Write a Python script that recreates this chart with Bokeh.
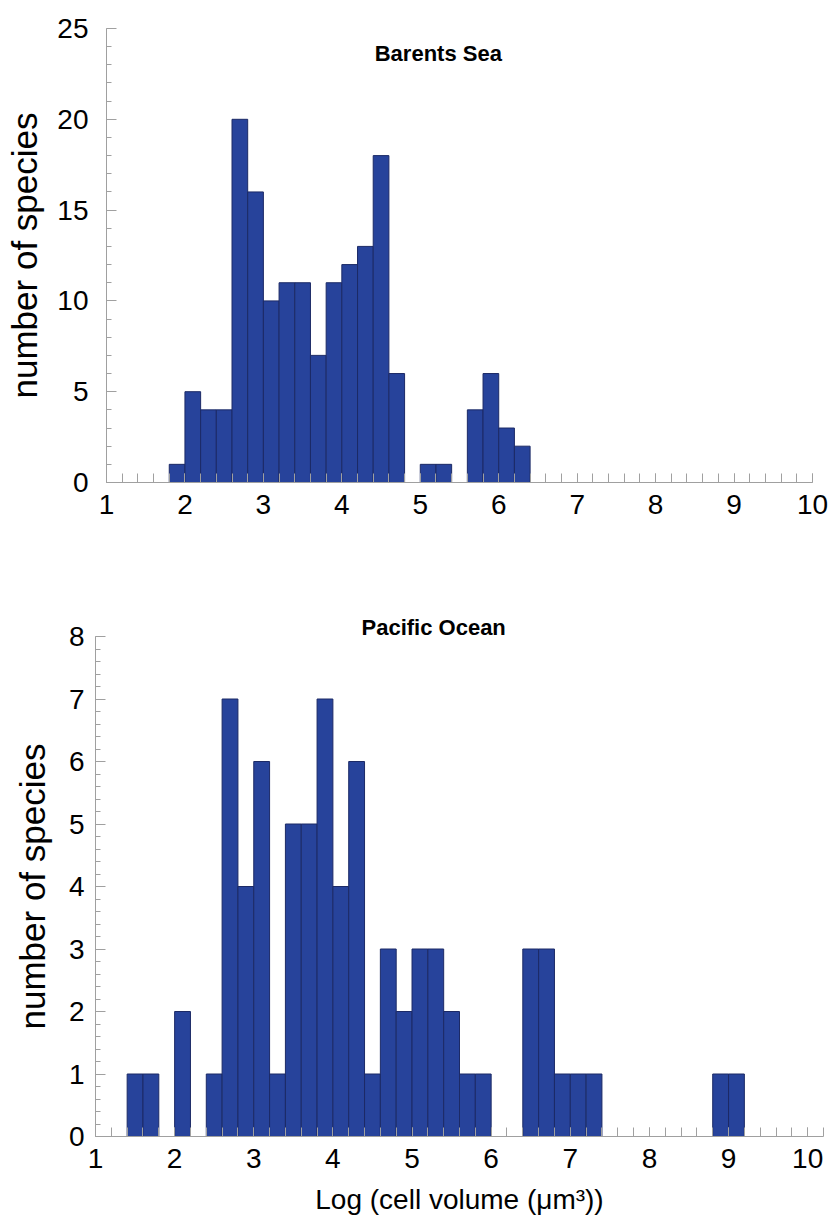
from bokeh.plotting import figure
from bokeh.models import SingleIntervalTicker, Label, Range1d
from bokeh.embed import file_html
from bokeh.resources import INLINE

# ---- data ----
bin_width = 0.2
barents_left = [1.8, 2.0, 2.2, 2.4, 2.6, 2.8, 3.0, 3.2, 3.4, 3.6, 3.8, 4.0, 4.2, 4.4, 4.6,
                5.0, 5.2, 5.6, 5.8, 6.0, 6.2]
barents_count = [1, 5, 4, 4, 20, 16, 10, 11, 11, 7, 11, 12, 13, 18, 6,
                 1, 1, 4, 6, 3, 2]

pacific_left = [1.4, 1.6, 2.0, 2.4, 2.6, 2.8, 3.0, 3.2, 3.4, 3.6, 3.8, 4.0, 4.2, 4.4, 4.6,
                4.8, 5.0, 5.2, 5.4, 5.6, 5.8, 6.4, 6.6, 6.8, 7.0, 7.2, 8.8, 9.0]
pacific_count = [1, 1, 2, 1, 7, 4, 6, 1, 5, 5, 7, 4, 6, 1, 3,
                 2, 3, 3, 2, 1, 1, 3, 3, 1, 1, 1, 1, 1]

x_tick_labels = ["1", "2", "3", "4", "5", "6", "7", "8", "9", "10"]

FONT = "Liberation Sans"
BAR = "#27439B"
BAR_LINE = "#1c2a66"
AXIS = "#a0a0a0"


def style(p, y_interval, label_standoff_y, ylab_standoff, xlab=None):
    p.xgrid.visible = False
    p.ygrid.visible = False
    p.outline_line_color = None
    p.background_fill_color = "white"
    p.border_fill_color = "white"
    p.xaxis.ticker = SingleIntervalTicker(interval=1, num_minor_ticks=5)
    p.yaxis.ticker = SingleIntervalTicker(interval=y_interval, num_minor_ticks=5)
    for ax in (p.xaxis[0], p.yaxis[0]):
        ax.axis_line_color = AXIS
        ax.major_tick_line_color = AXIS
        ax.minor_tick_line_color = AXIS
        ax.major_tick_out = 0
        ax.minor_tick_out = 0
        ax.major_label_text_font = FONT
        ax.major_label_text_font_size = "28px"
        ax.major_label_text_color = "black"
        ax.axis_label_text_font = FONT
        ax.axis_label_text_font_style = "normal"
        ax.axis_label_text_color = "black"
    p.xaxis.major_tick_in = 9
    p.xaxis.minor_tick_in = 9
    p.yaxis.major_tick_in = 10
    p.yaxis.minor_tick_in = 5
    p.xaxis.major_label_standoff = 12
    p.yaxis.major_label_standoff = label_standoff_y
    p.yaxis.axis_label = "number of species"
    p.yaxis.axis_label_text_font_size = "35px"
    p.yaxis.axis_label_standoff = ylab_standoff
    p.xaxis.major_label_overrides = {i + 1: t for i, t in enumerate(x_tick_labels)}
    if xlab:
        p.xaxis.axis_label = xlab
        p.xaxis.axis_label_text_font_size = "28px"
        p.xaxis.axis_label_standoff = 13


# ---- top: Barents Sea ----
p1 = figure(width=833, height=560, x_range=Range1d(1, 10), y_range=Range1d(0, 25),
            output_backend="svg", toolbar_location=None,
            min_border_left=106, min_border_right=21, min_border_top=28, min_border_bottom=78)
p1.quad(left=barents_left, right=[v + bin_width for v in barents_left],
        top=barents_count, bottom=0, fill_color=BAR, line_color=BAR_LINE, line_width=1)
style(p1, 5, 18, 10)
p1.add_layout(Label(x=5.23, y=23.6, text="Barents Sea", text_align="center",
                    text_baseline="middle", text_font=FONT, text_font_style="bold",
                    text_font_size="22px", text_color="black"))

# ---- bottom: Pacific Ocean ----
p2 = figure(width=833, height=664, x_range=Range1d(1, 10.2), y_range=Range1d(0, 8),
            output_backend="svg", toolbar_location=None,
            min_border_left=95, min_border_right=10, min_border_top=76, min_border_bottom=88)
p2.quad(left=pacific_left, right=[v + bin_width for v in pacific_left],
        top=pacific_count, bottom=0, fill_color=BAR, line_color=BAR_LINE, line_width=1)
style(p2, 1, 11, 14, xlab="Log (cell volume (\u03bcm\u00b3))")
p2.title.text = "Pacific Ocean"
p2.title.align = "left"
p2.title.offset = 266
p2.title.standoff = -6
p2.title.text_font = FONT
p2.title.text_font_style = "bold"
p2.title.text_font_size = "22px"
p2.title.text_color = "black"

open("out.html", "w").write(file_html([p1, p2], INLINE))
